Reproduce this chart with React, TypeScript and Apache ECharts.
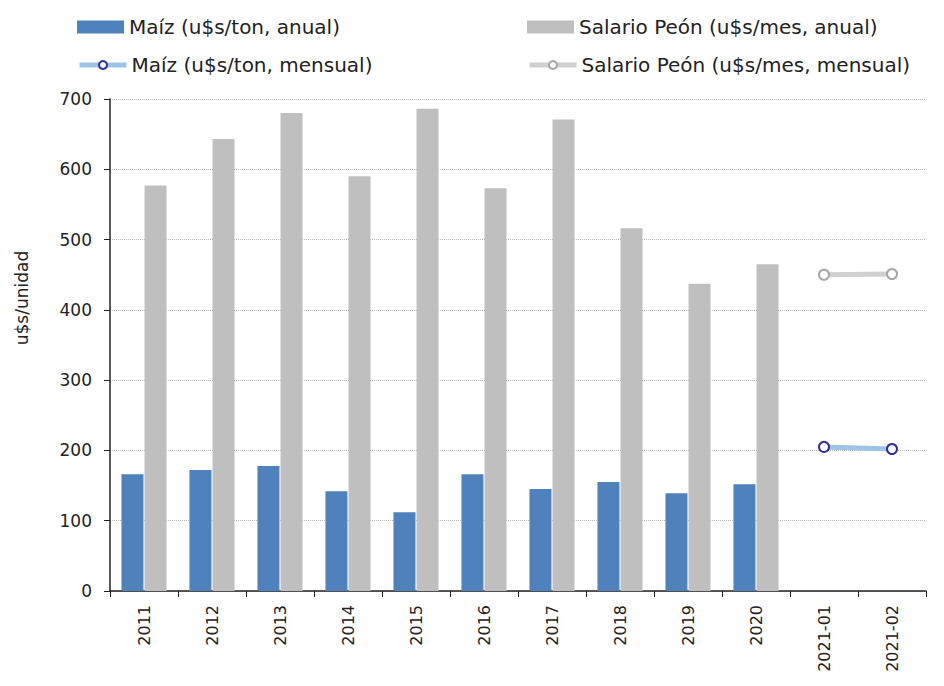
import React, { useEffect, useRef } from "react";
import * as echarts from "echarts";

const categories = ["2011", "2012", "2013", "2014", "2015", "2016", "2017", "2018", "2019", "2020", "2021-01", "2021-02"];
const maizAnual = [166, 172, 178, 142, 112, 166, 145, 155, 139, 152, null, null];
const salarioAnual = [577, 643, 680, 590, 686, 573, 671, 516, 437, 465, null, null];
const maizMensual = [null, null, null, null, null, null, null, null, null, null, 205, 202];
const salarioMensual = [null, null, null, null, null, null, null, null, null, null, 450, 451];
const yTicks = [0, 100, 200, 300, 400, 500, 600, 700];
const yAxisTitle = "u$s/unidad";

const FONT = "DejaVu Sans";

export default function App() {
  const ref = useRef<HTMLDivElement>(null);
  useEffect(() => {
    const chart = echarts.init(ref.current!, null, { renderer: "svg" });
    const legendText = { fontFamily: FONT, fontSize: 20, color: "#222" };
    const mkLegend = (name: string, left: number, top: number, isLine: boolean) => ({
      data: [name],
      left,
      top,
      itemWidth: 47,
      itemHeight: isLine ? 10 : 13,
      itemGap: 4,
      icon: isLine ? undefined : "rect",
      textStyle: legendText,
      selectedMode: false,
      ...(isLine ? { lineStyle: { width: 5 } } : {}),
    });
    chart.setOption({
      animation: false,
      backgroundColor: "#fff",
      legend: [
        mkLegend("Maíz (u$s/ton, anual)", 72, 12, false),
        mkLegend("Salario Peón (u$s/mes, anual)", 522, 12, false),
        mkLegend("Maíz (u$s/ton, mensual)", 72, 50, true),
        mkLegend("Salario Peón (u$s/mes, mensual)", 522, 50, true),
      ],
      graphic: [
        {
          type: "text",
          x: 22,
          y: 298,
          rotation: Math.PI / 2,
          style: {
            text: yAxisTitle,
            fontFamily: FONT,
            fontSize: 17,
            fill: "#222",
            align: "center",
            verticalAlign: "middle",
          },
        },
      ],
      grid: { left: 110, right: 18, top: 99, bottom: 95, containLabel: false },
      xAxis: {
        type: "category",
        data: categories,
        boundaryGap: true,
        axisLine: { lineStyle: { color: "#222", width: 1.5 } },
        axisTick: { show: true, alignWithLabel: false, length: 6, lineStyle: { color: "#222" } },
        axisLabel: { rotate: 90, interval: 0, fontFamily: FONT, fontSize: 16, color: "#222", margin: 14 },
      },
      yAxis: {
        type: "value",
        min: 0,
        max: 700,
        interval: 100,
        axisLine: { show: true, lineStyle: { color: "#222", width: 1.5 } },
        axisTick: { show: true, inside: false, length: 6, lineStyle: { color: "#222" } },
        axisLabel: {
          fontFamily: FONT,
          fontSize: 17,
          color: "#222",
          margin: 18,
          formatter: (v: number) => (yTicks.includes(v) ? String(v) : ""),
        },
        splitLine: { show: true, lineStyle: { color: "#bbb", type: "dotted", width: 1 } },
      },
      series: [
        {
          name: "Maíz (u$s/ton, anual)",
          type: "bar",
          data: maizAnual,
          barWidth: 22,
          barGap: "5%",
          itemStyle: { color: "#4f81bd" },
        },
        {
          name: "Salario Peón (u$s/mes, anual)",
          type: "bar",
          data: salarioAnual,
          barWidth: 22,
          barGap: "5%",
          itemStyle: { color: "#bfbfbf" },
        },
        {
          name: "Maíz (u$s/ton, mensual)",
          type: "line",
          data: maizMensual,
          symbol: "circle",
          symbolSize: 10,
          showSymbol: true,
          lineStyle: { color: "#9dc3e6", width: 5 },
          itemStyle: { color: "#fff", borderColor: "#2e2ea0", borderWidth: 2 },
        },
        {
          name: "Salario Peón (u$s/mes, mensual)",
          type: "line",
          data: salarioMensual,
          symbol: "circle",
          symbolSize: 10,
          showSymbol: true,
          lineStyle: { color: "#d0d0d0", width: 5 },
          itemStyle: { color: "#fff", borderColor: "#a6a6a6", borderWidth: 2 },
        },
      ],
    });
    return () => chart.dispose();
  }, []);
  return <div ref={ref} style={{ width: 944, height: 686, position: "absolute", left: 0, top: 0 }} />;
}
